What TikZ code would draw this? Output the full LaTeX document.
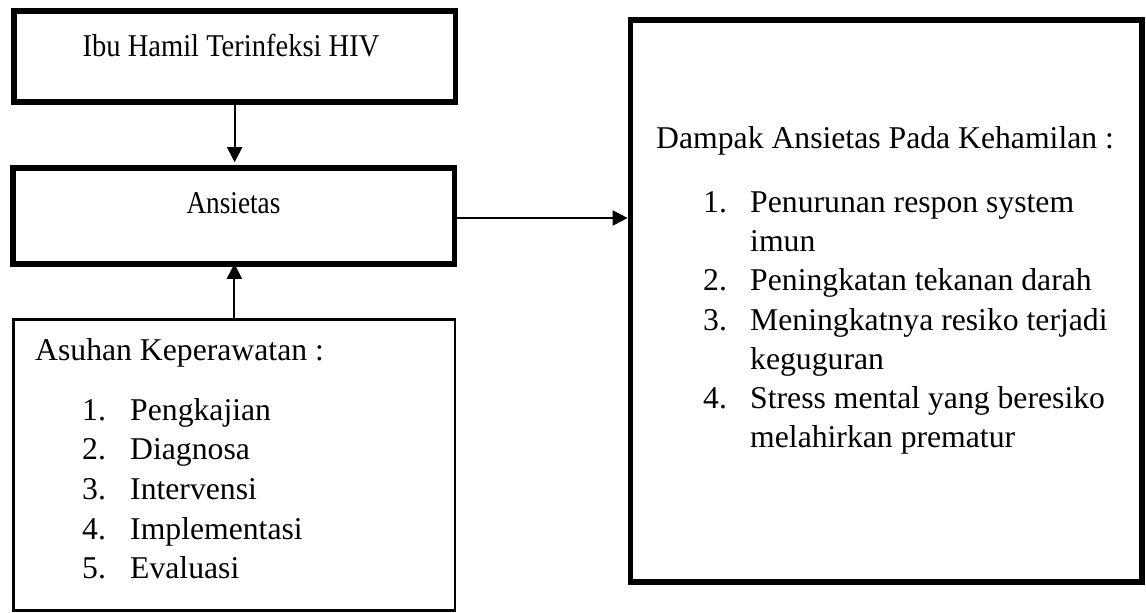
\documentclass[tikz,border=0pt]{standalone}
\usepackage{fontspec}
\usepackage{graphicx}
\setmainfont{Liberation Serif}
\usetikzlibrary{arrows.meta}
\begin{document}
\begin{tikzpicture}[x=1pt,y=-1pt,
  thickbox/.style={draw, line width=5.6pt, inner sep=0pt},
  thinbox/.style={draw, line width=2.3pt, inner sep=0pt},
  arr/.style={-{Triangle[width=15pt,length=15pt]}, line width=2pt},
  small/.style={font=\fontsize{31.7}{38}\selectfont, inner sep=0pt, anchor=base},
  big/.style={font=\fontsize{31.7}{38}\selectfont, inner sep=0pt, anchor=base west}]
\useasboundingbox (0,0) rectangle (1146,613);
% boxes
\node[thickbox, minimum width=441.7pt, minimum height=90.7pt] (b1) at (234.65,56.35) {};
\node[thickbox, minimum width=441.7pt, minimum height=96pt] (b2) at (233.65,216) {};
\node[thinbox, minimum width=441.8pt, minimum height=291pt] (b3) at (234.4,465) {};
\node[thickbox, line width=5.7pt, minimum width=511.7pt, minimum height=561.9pt] (b4) at (886.35,301.25) {};
% connectors
\draw[arr, shorten >=3pt] (b1.south) -- (b1.south |- b2.north);
\draw[arr, shorten >=-3pt] (b3.north) -- (b3.north |- b2.south);
\draw[arr] ([yshift=-2pt]b2.east) -- ([yshift=-2pt]b2.east -| b4.west);
% texts
\node[small] (t1) at (231,56) {\scalebox{0.9}[1]{Ibu Hamil Terinfeksi HIV}};
\node[small] (t2) at (233.5,213) {\scalebox{0.86}[1]{Ansietas}};
\node[big] (a0) at (35,360) {Asuhan Keperawatan :};
\node[big] (an1) at (82,420) {1.};   \node[big] (ai1) at (130,420) {Pengkajian};
\node[big] (an2) at (82,459.5) {2.}; \node[big] (ai2) at (130,459.5) {Diagnosa};
\node[big] (an3) at (82,499) {3.};   \node[big] (ai3) at (130,499) {Intervensi};
\node[big] (an4) at (82,539) {4.};   \node[big] (ai4) at (130,539) {Implementasi};
\node[big] (an5) at (82,578) {5.};   \node[big] (ai5) at (130,578) {Evaluasi};
\node[big] (d0) at (656,148) {Dampak Ansietas Pada Kehamilan :};
\node[big] (dn1) at (703,212) {1.}; \node[big] (di1) at (750,212) {Penurunan respon system};
\node[big] (di1b) at (750,251) {imun};
\node[big] (dn2) at (703,290) {2.}; \node[big] (di2) at (750,290) {Peningkatan tekanan darah};
\node[big] (dn3) at (703,330) {3.}; \node[big] (di3) at (750,330) {Meningkatnya resiko terjadi};
\node[big] (di3b) at (750,369) {keguguran};
\node[big] (dn4) at (703,408) {4.}; \node[big] (di4) at (750,408) {Stress mental yang beresiko};
\node[big] (di4b) at (750,447) {melahirkan prematur};
\end{tikzpicture}
\end{document}
